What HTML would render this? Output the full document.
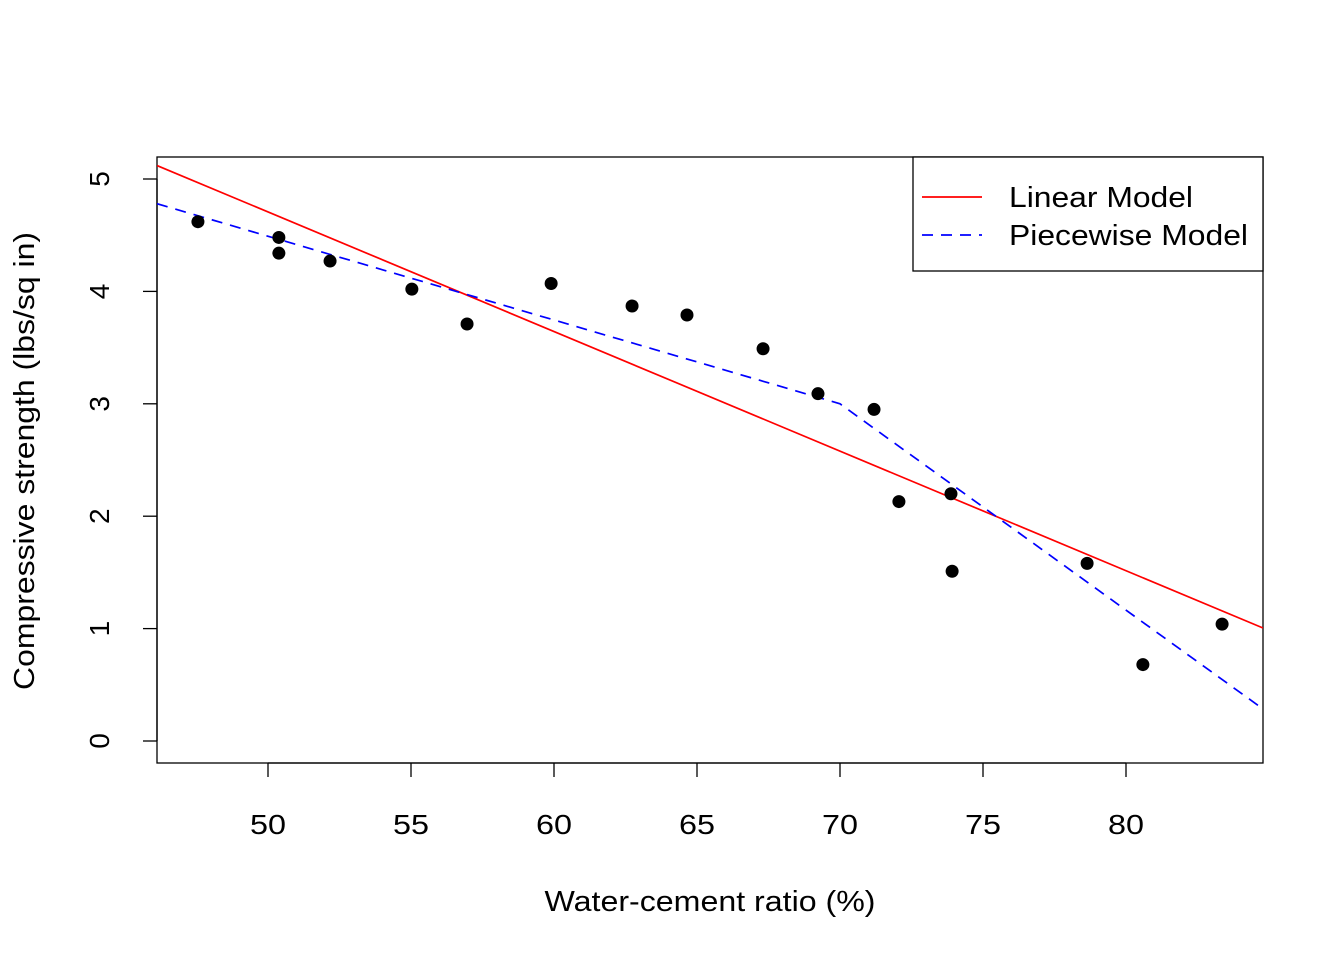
<!DOCTYPE html>
<html><head><meta charset="utf-8"><style>body{margin:0;background:#fff}svg{display:block}text{font-family:"Liberation Sans",Arial,sans-serif;fill:#000}</style></head>
<body>
<svg id="chart" width="1344" height="960" xmlns="http://www.w3.org/2000/svg">
<g id="marks"></g>
</svg>
<script>
const xTicks=[50,55,60,65,70,75,80];
const yTicks=[0,1,2,3,4,5];
const ratio=[47.55,50.38,50.38,52.17,55.03,56.96,59.90,62.73,64.65,67.31,69.23,71.19,72.06,73.88,73.92,78.64,80.59,83.36];
const strength=[4.62,4.48,4.34,4.27,4.02,3.71,4.07,3.87,3.79,3.49,3.09,2.95,2.13,2.20,1.51,1.58,0.68,1.04];
const linearCoef=[10.027,-0.1064];
const pieceKnot=[70];
const pieceVals=[4.78,3.0,0.285]; // at xmin, knot, xmax
const xDomain=[46.12,84.79];
const L=157,R=1263,T=157,B=763;
function X(v){return 268+(v-50)*28.6;}
function Y(v){return 741-v*112.4;}
const svg=document.getElementById('chart');
const NS='http://www.w3.org/2000/svg';
function mk(tag,attrs,name,parent){const e=document.createElementNS(NS,tag);for(const k in attrs)e.setAttribute(k,attrs[k]);


(parent||svg).appendChild(e);return e;}
mk('rect',{x:L,y:T,width:R-L,height:B-T,fill:'none',stroke:'#000','stroke-width':1.3},'plot-frame');
xTicks.forEach(t=>{mk('line',{x1:X(t),x2:X(t),y1:B,y2:B+14,stroke:'#000','stroke-width':1.3},'x-tick');
const tx=mk('text',{x:X(t),y:834,'text-anchor':'middle','font-size':28,textLength:36,lengthAdjust:'spacingAndGlyphs'},'x-tick-label');tx.textContent=t;});
mk('line',{x1:X(50),x2:X(80),y1:B,y2:B,stroke:'#000','stroke-width':1.3},'x-axis-line');
yTicks.forEach(t=>{mk('line',{x1:L,x2:L-14,y1:Y(t),y2:Y(t),stroke:'#000','stroke-width':1.3},'y-tick');
const tx=mk('text',{x:109,y:Y(t),'text-anchor':'middle','font-size':28,transform:`rotate(-90 109 ${Y(t)})`},'y-tick-label');tx.textContent=t;});
mk('line',{x1:L,x2:L,y1:Y(0),y2:Y(5),stroke:'#000','stroke-width':1.3},'y-axis-line');
let t=mk('text',{x:710,y:911,'text-anchor':'middle','font-size':29,textLength:331,lengthAdjust:'spacingAndGlyphs'},'x-axis-title');t.textContent='Water-cement ratio (%)';
t=mk('text',{x:34,y:461,'text-anchor':'middle','font-size':29,textLength:458,lengthAdjust:'spacingAndGlyphs',transform:'rotate(-90 34 461)'},'y-axis-title');t.textContent='Compressive strength (lbs/sq in)';
const cp=mk('clipPath',{id:'cp'},'clip');mk('rect',{x:L,y:T,width:R-L,height:B-T},'clip-rect',cp);
const lin=v=>linearCoef[0]+linearCoef[1]*v;
mk('line',{x1:X(xDomain[0]),y1:Y(lin(xDomain[0])),x2:X(xDomain[1]),y2:Y(lin(xDomain[1])),stroke:'#ff0000','stroke-width':1.7,'clip-path':'url(#cp)'},'linear-model-line');
const px=[xDomain[0],pieceKnot[0],xDomain[1]];
mk('polyline',{points:px.map((v,i)=>X(v)+','+Y(pieceVals[i])).join(' '),fill:'none',stroke:'#0000ff','stroke-width':1.7,'stroke-dasharray':'11 8','clip-path':'url(#cp)'},'piecewise-model-line');
ratio.forEach((r,i)=>mk('circle',{cx:X(r),cy:Y(strength[i]),r:6.5,fill:'#000'},'data-point'));
const lg=mk('g',{},'legend');
mk('rect',{x:913,y:157,width:350,height:114,fill:'#fff',stroke:'#000','stroke-width':1.3},'legend-box',lg);
mk('line',{x1:922,x2:982,y1:197,y2:197,stroke:'#ff0000','stroke-width':1.7},'legend-linear-swatch',lg);
mk('line',{x1:922,x2:982,y1:235,y2:235,stroke:'#0000ff','stroke-width':1.7,'stroke-dasharray':'11 8'},'legend-piecewise-swatch',lg);
t=mk('text',{x:1009,y:207,'font-size':29,textLength:184,lengthAdjust:'spacingAndGlyphs'},'legend-linear-label',lg);t.textContent='Linear Model';
t=mk('text',{x:1009,y:245,'font-size':29,textLength:239,lengthAdjust:'spacingAndGlyphs'},'legend-piecewise-label',lg);t.textContent='Piecewise Model';
</script>
</body></html>
